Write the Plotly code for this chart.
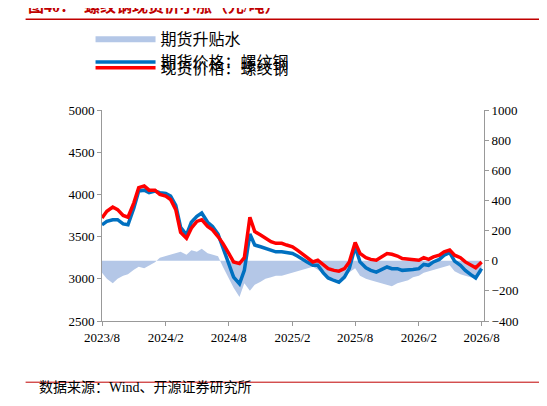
import pandas as pd
import plotly.graph_objects as go

spot = [3720,3800,3850,3820,3750,3730,3900,4080,4100,4050,
        4050,4000,3980,3940,3820,3550,3480,3600,3680,3700,3620,3580,3500,3420,
        3300,3200,3180,3250,3730,3560,3520,3480,3440,3420,
        3420,3400,3380,3340,3300,3250,3200,3220,3160,3120,3100,3090,3120,3200,
        3430,3300,3250,3230,3220,3260,3300,3290,3270,3240,
        3230,3220,3220,3250,3230,3260,3280,3320,3340,3280,3250,3200,3160,3130,3200]
spread = [-80,-120,-150,-120,-100,-90,-60,-40,-50,-30,
          -10,20,30,40,50,60,40,70,60,80,50,40,30,-40,
          -120,-180,-240,-150,-200,-160,-140,-120,-110,-100,
          -100,-90,-80,-70,-60,-50,-40,-60,-90,-110,-120,-130,-100,-80,
          -50,-100,-120,-130,-140,-150,-160,-170,-150,-140,
          -130,-110,-100,-80,-70,-60,-50,-40,-30,-70,-90,-100,-110,-120,-80]
dates = pd.date_range('2023-08-01', periods=len(spot), freq='SMS')
futures = [s + d for s, d in zip(spot, spread)]

tickvals = pd.to_datetime(['2023-08-01','2024-02-01','2024-08-01','2025-02-01',
                           '2025-08-01','2026-02-01','2026-08-01'])
ticktext = ['2023/8','2024/2','2024/8','2025/2','2025/8','2026/2','2026/8']

fig = go.Figure()
fig.add_trace(go.Scatter(x=dates, y=spread, name='期货升贴水', yaxis='y',
                         fill='tozeroy', mode='lines', line=dict(width=0, color='#B4C7E7'),
                         fillcolor='#B4C7E7', legend='legend'))
fig.add_trace(go.Scatter(x=dates, y=futures, name='期货价格：螺纹钢', mode='lines', yaxis='y2',
                         line=dict(color='#0070C0', width=3.5), legend='legend'))
fig.add_trace(go.Scatter(x=dates, y=spot, name='现货价格：螺纹钢', mode='lines', yaxis='y2',
                         line=dict(color='#FF0000', width=3.5), legend='legend2'))

axfont = dict(family='Liberation Serif, Noto Sans CJK SC', size=13, color='black')
legfont = dict(size=16, family='Liberation Serif, Noto Sans CJK SC')
fig.update_layout(
    width=547, height=406, margin=dict(l=94, r=71, t=102, b=93),
    paper_bgcolor='white', plot_bgcolor='white',
    font=dict(family='Liberation Serif, Noto Sans CJK SC', size=14, color='black'),
    showlegend=True,
    legend=dict(orientation='h', x=-0.03, y=1.42, xanchor='left', yanchor='top',
                entrywidth=255, entrywidthmode='pixels', font=legfont, itemwidth=60,
                bgcolor='rgba(0,0,0,0)'),
    legend2=dict(orientation='h', x=-0.03, y=1.28, xanchor='left', yanchor='top',
                 font=legfont, itemwidth=60, bgcolor='rgba(0,0,0,0)'),
    xaxis=dict(range=[pd.Timestamp('2023-08-01'), pd.Timestamp('2026-08-08')],
               tickvals=tickvals, ticktext=ticktext, showgrid=False,
               showline=True, linecolor='#999', ticks='outside', ticklen=4,
               tickcolor='#999', tickfont=axfont),
    yaxis=dict(range=[-400, 1000], dtick=200, side='right',
               showgrid=False, showline=True, linecolor='#999', ticks='outside',
               ticklen=4, tickcolor='#999', tickfont=axfont, zeroline=False),
    yaxis2=dict(range=[2500, 5000], dtick=500, overlaying='y', side='left',
                showgrid=False, showline=True, linecolor='#999', ticks='outside',
                ticklen=4, tickcolor='#999', tickfont=axfont, zeroline=False),
    annotations=[
        dict(text='<b>图40：  螺纹钢现货价小涨（元/吨）</b>', xref='paper', yref='paper',
             x=-0.2, y=1.44, yanchor='bottom', xanchor='left', showarrow=False,
             font=dict(size=16, color='#C00000',
                       family='Liberation Serif, Noto Sans CJK SC')),
        dict(text='数据来源：Wind、开源证券研究所', xref='paper', yref='paper',
             x=-0.17, y=-0.27, xanchor='left', yanchor='top', showarrow=False,
             font=dict(size=14, family='Liberation Serif, Noto Sans CJK SC')),
    ],
    shapes=[
        dict(type='line', xref='paper', yref='paper', x0=-0.2, x1=1.2, y0=1.43, y1=1.43,
             line=dict(color='#C00000', width=1.5)),
        dict(type='line', xref='paper', yref='paper', x0=-0.2, x1=1.2, y0=-0.29, y1=-0.29,
             line=dict(color='#C00000', width=1)),
    ],
)
fig.write_html('out.html')
